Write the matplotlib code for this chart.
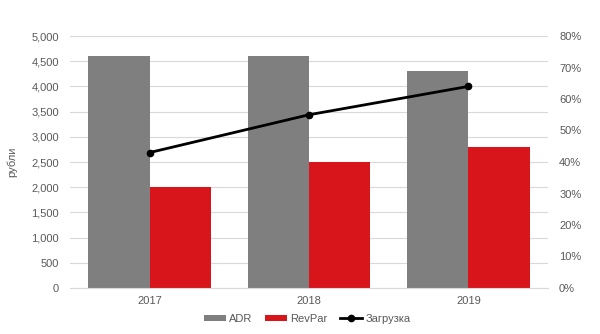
import matplotlib
matplotlib.use("Agg")
import matplotlib.pyplot as plt
import numpy as np
from matplotlib.ticker import FuncFormatter

years = ["2017", "2018", "2019"]
adr = [4600, 4600, 4300]
revpar = [2000, 2500, 2800]
load = [0.43, 0.55, 0.64]

plt.rcParams['font.family'] = ['Liberation Sans', 'DejaVu Sans']
txt = '#595959'

fig = plt.figure(figsize=(6, 3.34), dpi=100)
ax = fig.add_axes([70/600, 46/334, 478/600, 252/334])
x = np.arange(len(years))
w = 0.385
b1 = ax.bar(x - w/2, adr, w, color='#7f7f7f', label='ADR', zorder=2)
b2 = ax.bar(x + w/2, revpar, w, color='#d7151b', label='RevPar', zorder=2)
ax.set_xlim(-0.5, 2.5)
ax.set_ylim(0, 5000)
ax.set_yticks(np.arange(0, 5001, 500))
ax.yaxis.set_major_formatter(FuncFormatter(lambda v, p: f"{int(v):,}"))
ax.grid(axis='y', color='#d9d9d9', linewidth=0.8, zorder=0)
ax.set_axisbelow(True)
for s in ax.spines.values():
    s.set_visible(False)
ax.spines['bottom'].set_visible(True)
ax.spines['bottom'].set_color('#d9d9d9')
ax.set_xticks(x)
ax.set_xticklabels(years)
ax.tick_params(axis='both', length=0, labelsize=8, colors=txt, pad=6)
ax.tick_params(axis='y', pad=8)
ax.set_ylabel('рубли', fontsize=8, color=txt, labelpad=10)

ax2 = ax.twinx()
ln, = ax2.plot(x, load, color='black', linewidth=2, marker='o', markersize=4.5, label='Загрузка', zorder=3)
ax2.set_ylim(0, 0.8)
ax2.set_yticks(np.arange(0, 0.81, 0.1))
ax2.yaxis.set_major_formatter(FuncFormatter(lambda v, p: f"{int(round(v*100))}%"))
ax2.tick_params(axis='y', length=0, labelsize=8, colors=txt, pad=8)
for s in ax2.spines.values():
    s.set_visible(False)

fig.legend(handles=[b1, b2, ln], loc='lower center', bbox_to_anchor=(0.512, 0.0), ncol=3,
           frameon=False, fontsize=8, labelcolor=txt, handlelength=2.0, handleheight=0.5,
           handletextpad=0.3, columnspacing=1.1)

fig.savefig('out.png', dpi=100, facecolor='white')
